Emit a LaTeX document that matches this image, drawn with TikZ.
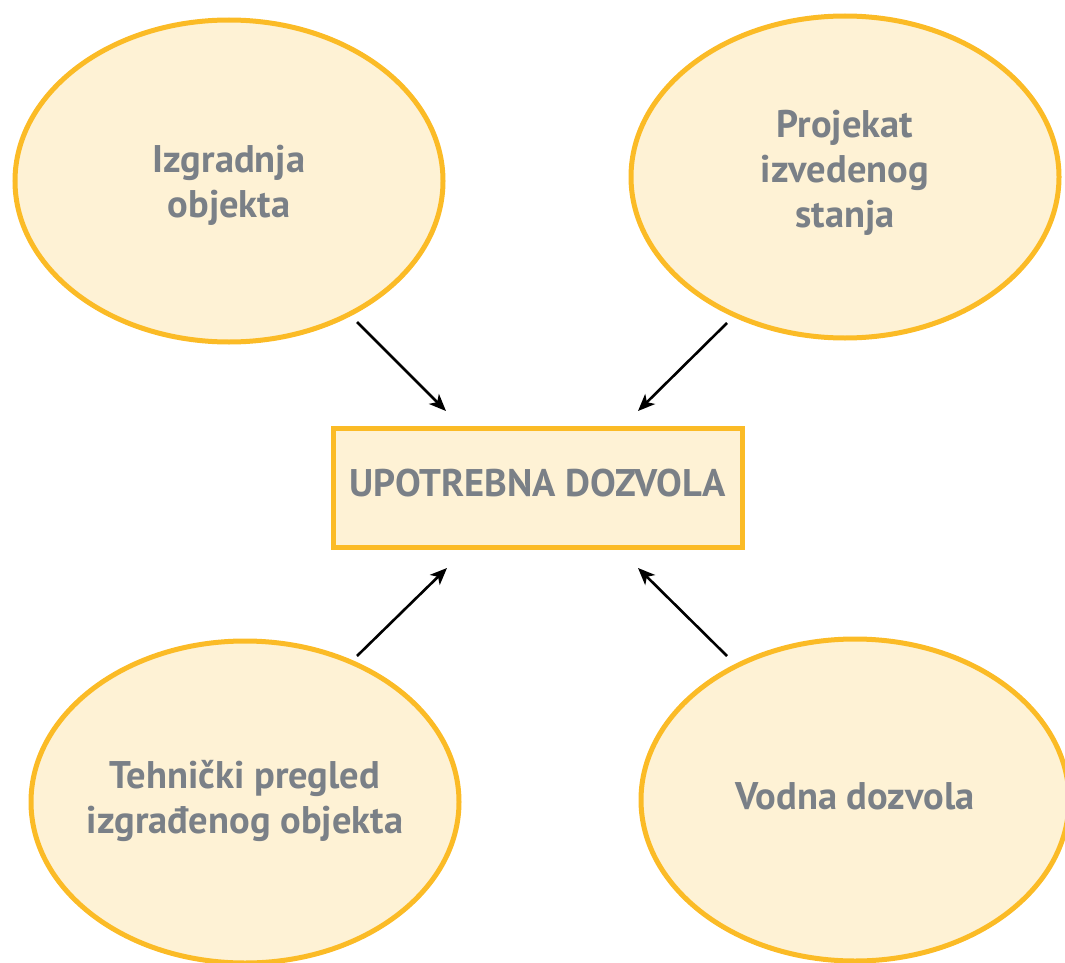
\documentclass[tikz,border=0pt]{standalone}
\usepackage{fontspec}
\setmainfont{PT Sans}
\usetikzlibrary{shapes.geometric,arrows.meta}
\definecolor{ringc}{RGB}{251,187,38}
\definecolor{fillc}{RGB}{254,242,213}
\definecolor{textc}{RGB}{122,128,135}
\newcommand{\lbl}[2]{\raisebox{#1}[\height][\depth]{\makebox[0pt]{\begin{tabular}{@{}c@{}}#2\end{tabular}}}}
\tikzset{
  bubble/.style={ellipse, draw=ringc, fill=fillc, line width=5pt,
    minimum width=428pt, minimum height=322pt, inner sep=0pt,
    text=textc, font=\fontsize{38.5}{45}\selectfont\bfseries},
  mainbox/.style={rectangle, draw=ringc, fill=fillc, line width=5pt,
    minimum width=409pt, minimum height=119pt, inner sep=0pt,
    text=textc, font=\fontsize{38.5}{45}\selectfont\bfseries},
  link/.style={line width=2.6pt, -{Stealth[length=17pt,width=14pt,inset=4.5pt]}}
}
\begin{document}
\begin{tikzpicture}[x=1pt,y=-1pt]
\useasboundingbox (0,0) rectangle (1065,963);
\clip (0,0) rectangle (1065,963);
\node[bubble] (tl) at (229,181) {\lbl{-4.5pt}{Izgradnja\\objekta}};
\node[bubble] (tr) at (845,177) {\lbl{4pt}{Projekat\\izvedenog\\stanja}};
\node[bubble] (bl) at (245,802) {\lbl{0pt}{Tehnički pregled\\izgrađenog objekta}};
\node[bubble] (br) at (855,800) {\lbl{0pt}{Vodna dozvola}};
\node[mainbox] (m) at (537.5,487.5) {\strut UPOTREBNA DOZVOLA};
\coordinate (tls) at (357,322); \coordinate (tle) at (446,411);
\coordinate (trs) at (727,323); \coordinate (tre) at (638,411);
\coordinate (bls) at (357,656); \coordinate (ble) at (447,568);
\coordinate (brs) at (727,656); \coordinate (bre) at (638,568);
\draw[link] (tls) -- (tle);
\draw[link] (trs) -- (tre);
\draw[link] (bls) -- (ble);
\draw[link] (brs) -- (bre);
\end{tikzpicture}
\end{document}
